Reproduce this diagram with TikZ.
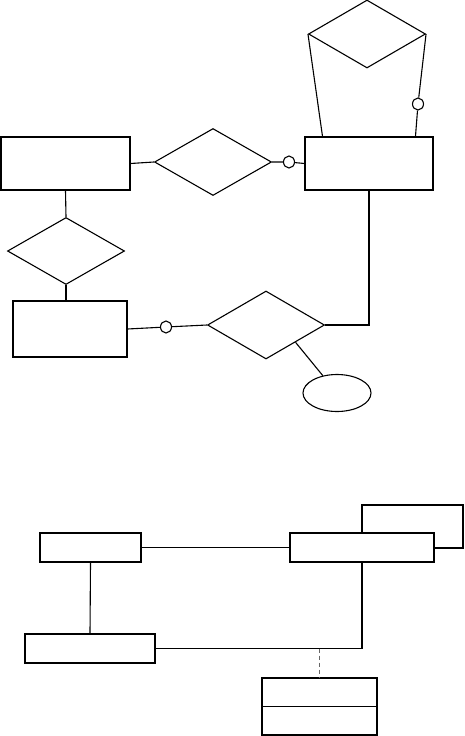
\documentclass[tikz,border=0pt]{standalone}
\usepackage{tikz}
\usetikzlibrary{shapes.geometric,calc}

\tikzset{
  ent/.style={draw, rectangle, inner sep=0pt, fill=white},
  rel/.style={draw, diamond, inner sep=0pt, minimum width=117pt, minimum height=67pt},
  opt/.style={draw, ellipse, inner sep=0pt, minimum width=11pt, minimum height=12pt, fill=white},
  att/.style={draw, ellipse, inner sep=0pt, minimum width=68pt, minimum height=37pt}
}

\begin{document}
\begin{tikzpicture}[x=1pt, y=-1pt, line width=1.1pt]
    \useasboundingbox (0,0) rectangle (464,736);

    % ER diagram: entities
    \node[ent, minimum width=129pt, minimum height=53pt] (entA) at (65.5,163.5) {};
    \node[ent, minimum width=128pt, minimum height=53pt] (entB) at (369,163.5) {};
    \node[ent, minimum width=114pt, minimum height=56pt] (entC) at (70,329) {};

    % ER diagram: relationships
    \node[rel] (relAB) at (213,162) {};
    \node[rel, minimum height=68pt] (relBB) at (367,34) {};
    \node[rel] (relAC) at (66,251) {};
    \node[rel, minimum height=68pt] (relCB) at (266,325) {};

    % attribute
    \node[att] (att) at (337,393) {};

    % optional circles
    \node[opt] (optAB) at (289,162) {};
    \node[opt] (optBB) at (418,104) {};
    \node[opt] (optCB) at (166,327) {};

    % ER links
    \draw (entA.east) -- (relAB.west);
    \draw (relAB.east) -- (optAB) -- (entB.west);
    \draw (relBB.west) -- ($(entB.north west)!0.14!(entB.north east)$);
    \draw (relBB.east) -- (optBB) -- ($(entB.north west)!0.86!(entB.north east)$);
    \draw (entA.south) -- (relAC.north);
    \draw (relAC.south) -- (relAC.south |- entC.north);
    \draw (entC.east) -- (optCB) -- (relCB.west);
    \draw (relCB.east) -| (entB.south);
    \draw (relCB.south east) -- (att);

    % class diagram
    \node[ent, minimum width=101pt, minimum height=43pt] (clsF) at (412.5,526.5) {};
    \node[ent, minimum width=101pt, minimum height=29pt] (clsD) at (90.5,547.5) {};
    \node[ent, minimum width=144pt, minimum height=29pt] (clsE) at (362,547.5) {};
    \node[ent, minimum width=130pt, minimum height=29pt] (clsG) at (90,648.5) {};
    \node[ent, minimum width=115pt, minimum height=57pt] (clsH) at (319.5,706.5) {};
    \draw (clsH.west) -- (clsH.east);

    \draw (clsD.east) -- (clsE.west);
    \draw (clsD.south) -- (clsG.north);
    \draw (clsG.east) -| (clsE.south);
    \coordinate (jH) at (clsH.north |- clsG.east);
    \draw[dash pattern=on 4pt off 3pt, black!60] (jH) -- (clsH.north);
\end{tikzpicture}
\end{document}
